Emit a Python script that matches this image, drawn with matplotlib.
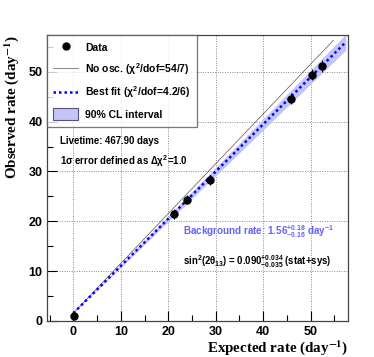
import numpy as np
import matplotlib
matplotlib.use("Agg")
import matplotlib.pyplot as plt
from matplotlib.lines import Line2D
from matplotlib.patches import Patch
from matplotlib.ticker import MultipleLocator

plt.rcParams['font.family'] = ['Liberation Sans', 'DejaVu Sans']
plt.rcParams['font.weight'] = 'bold'
plt.rcParams['mathtext.fontset'] = 'custom'
plt.rcParams['mathtext.rm'] = 'Liberation Sans:bold'
plt.rcParams['mathtext.it'] = 'Liberation Sans:bold'
plt.rcParams['mathtext.bf'] = 'Liberation Sans:bold'

# Data
expected = [0.1, 21.2, 23.9, 28.8, 45.8, 50.3, 52.4]
observed = [1.05, 21.5, 24.3, 28.3, 44.6, 49.4, 51.1]
obs_err = [0.3, 1.0, 0.9, 1.0, 1.1, 1.1, 1.2]
background = 1.56
best_slope = 0.948
band_halfwidth_slope = 0.028
noosc_xmax = 54.8
fit_xmax = 57.4

fig = plt.figure(figsize=(3.74, 3.57), dpi=100)
ax = fig.add_axes([0.125, 0.101, 0.806, 0.801])

x_no = np.linspace(0, noosc_xmax, 50)
x_fit = np.linspace(0, fit_xmax, 50)
ax.fill_between(x_fit, background + (best_slope - band_halfwidth_slope) * x_fit,
                background + (best_slope + band_halfwidth_slope) * x_fit,
                color='#c4c4fa', lw=0, zorder=2)
ax.plot(x_no, background + x_no, color='#555555', lw=0.5, zorder=3)
ax.plot(x_fit, background + best_slope * x_fit, color='#0000ff', lw=1.8,
        linestyle=(0, (1, 1.2)), zorder=4)
ax.errorbar(expected, observed, yerr=obs_err, fmt='o', color='black', ms=5,
            elinewidth=0.8, capsize=0, zorder=5)

ax.set_xlim(-5.6, 57.9)
ax.set_ylim(0, 57.4)
ax.xaxis.set_major_locator(MultipleLocator(10))
ax.xaxis.set_minor_locator(MultipleLocator(5))
ax.yaxis.set_major_locator(MultipleLocator(10))
ax.yaxis.set_minor_locator(MultipleLocator(5))
ax.tick_params(which='both', direction='in', top=False, right=False)
ax.tick_params(which='major', length=7, width=0.8, labelsize=9, pad=3)
ax.tick_params(which='minor', length=4, width=0.8)
ax.tick_params(axis='x', pad=4)
for lab in ax.get_xticklabels() + ax.get_yticklabels():
    lab.set_fontweight('bold')
ax.grid(True, which='major', color='#888888', lw=0.7, linestyle=(0, (1, 1.5)))
for s in ax.spines.values():
    s.set_color('#444444')
    s.set_linewidth(0.9)

ax.set_xlabel(r'Expected rate (day$^{\mathbf{-1}}$)', family='Liberation Serif',
              fontweight='bold', fontsize=10.8, math_fontfamily='stix')
ax.xaxis.set_label_coords(1.0, -0.06)
ax.xaxis.label.set_ha('right')
ax.set_ylabel(r'Observed rate (day$^{\mathbf{-1}}$)', family='Liberation Serif',
              fontweight='bold', fontsize=10.8, math_fontfamily='stix')
ax.yaxis.set_label_coords(-0.085, 1.0)
ax.yaxis.label.set_ha('right')

handles = [
    Line2D([], [], marker='o', color='black', ms=5, lw=0),
    Line2D([], [], color='#555555', lw=0.5),
    Line2D([], [], color='#0000ff', lw=1.8, linestyle=(0, (1, 1.2))),
    Patch(facecolor='#c4c4fa', edgecolor='#555577', lw=0.8),
]
labels = ['Data', r'No osc. ($\chi^2$/dof=54/7)', r'Best fit ($\chi^2$/dof=4.2/6)',
          '90% CL interval']
leg = ax.legend(handles, labels, loc='upper left', bbox_to_anchor=(0, 1),
                borderaxespad=0, fancybox=False, frameon=True, fontsize=7.5,
                handlelength=2.4, handleheight=1.4, labelspacing=0.75,
                borderpad=0.6, handletextpad=0.7)
leg.get_frame().set_edgecolor('#555555')
leg.get_frame().set_linewidth(0.9)
leg.set_zorder(10)

ax.text(0.044, 0.629, 'Livetime: 467.90 days', transform=ax.transAxes,
        fontsize=6.9, fontweight='bold', va='center')
ax.text(0.044, 0.559, r'1$\sigma$ error defined as $\Delta\chi^2$=1.0', transform=ax.transAxes,
        fontsize=6.9, fontweight='bold', va='center')
ax.text(0.452, 0.311, r'Background rate: 1.56$^{+0.18}_{-0.16}$ day$^{-1}$',
        transform=ax.transAxes, fontsize=7.1, fontweight='bold', va='center',
        color='#6464f0')
ax.text(0.452, 0.206, r'sin$^2$(2$\theta_{13}$) = 0.090$^{+0.034}_{-0.035}$ (stat+sys)',
        transform=ax.transAxes, fontsize=6.9, fontweight='bold', va='center')

fig.savefig('out.png', dpi=100)
